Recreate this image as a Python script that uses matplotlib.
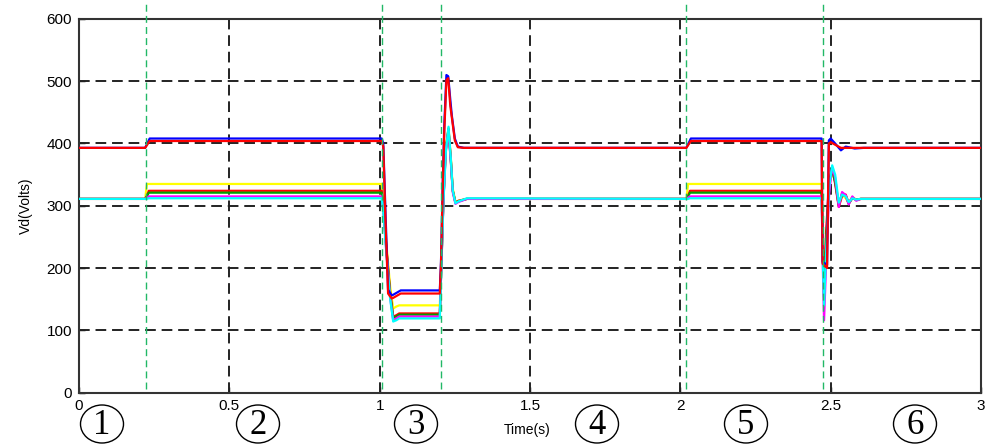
import matplotlib
matplotlib.use("Agg")
import matplotlib.pyplot as plt
from matplotlib.patches import Ellipse

# DC-link voltage, upper group (two converters)
t_up = [0, 0.22, 0.235, 1.007, 1.012, 1.02, 1.028, 1.04, 1.045, 1.07,
        1.200, 1.204, 1.21, 1.215, 1.222, 1.228, 1.235, 1.24, 1.25, 1.26,
        1.28, 2.02, 2.035, 2.470, 2.473, 2.488, 2.494, 2.50, 2.515, 2.534,
        2.55, 2.58, 2.61, 3.0]
vd_blue_up = [393, 393, 408, 408, 400, 280, 165, 156, 157, 164,
              164, 210, 340, 430, 510, 508, 470, 445, 408, 395,
              393, 393, 408, 408, 210, 205, 405, 408, 400, 389,
              395, 392, 393, 393]
vd_red_up = [393, 393, 404, 404, 395, 266, 159, 151, 152, 159,
             159, 207, 336, 420, 502, 505, 460, 442, 405, 394,
             393, 393, 404, 404, 207, 200, 400, 402, 398, 393,
             393, 393, 393, 393]

# lower group
t_lo = [0, 0.22, 0.226, 0.232, 1.007, 1.013, 1.022, 1.035, 1.045, 1.055,
        1.065, 1.200, 1.205, 1.212, 1.22, 1.229, 1.237, 1.243, 1.252, 1.262,
        1.29, 2.02, 2.026, 2.032, 2.470, 2.474, 2.478, 2.485, 2.495, 2.505,
        2.515, 2.527, 2.538, 2.55, 2.56, 2.572, 2.585, 2.6, 2.63, 3.0]
vd_yellow = [311, 311, 335, 335, 335, 300, 240, 170, 135, 138,
             140, 140, 205, 312, 395, 425, 375, 328, 306, 308,
             311, 311, 335, 335, 335, 240, 159, 230, 330, 355,
             340, 300, 318, 312, 305, 314, 310, 311, 311, 311]
vd_red_lo = [311, 311, 316, 324, 324, 295, 235, 160, 122, 124,
             127, 127, 203, 310, 392, 424, 372, 325, 305, 308,
             311, 311, 316, 324, 324, 230, 185, 260, 340, 360,
             335, 298, 316, 318, 304, 313, 309, 311, 311, 311]
vd_green = [311, 311, 315, 321, 321, 292, 232, 158, 120, 122,
            125, 125, 202, 309, 390, 422, 370, 324, 305, 307,
            311, 311, 315, 321, 321, 220, 153, 240, 335, 358,
            338, 300, 320, 316, 303, 312, 310, 311, 311, 311]
vd_magenta = [311, 311, 313, 315, 315, 288, 228, 152, 116, 119,
              122, 122, 200, 306, 388, 420, 368, 322, 303, 306,
              311, 311, 313, 315, 315, 200, 116, 210, 320, 362,
              345, 298, 322, 317, 302, 315, 308, 311, 311, 311]
vd_cyan = [311, 311, 311, 312, 312, 285, 225, 150, 114, 116,
           119, 119, 198, 305, 386, 427, 373, 325, 304, 307,
           312, 311, 311, 312, 312, 210, 140, 225, 330, 365,
           350, 305, 318, 315, 306, 312, 310, 311, 311, 311]

# switching instants and stage labels
events = [0.223, 1.009, 1.205, 2.02, 2.474]
stage_labels = ["1", "2", "3", "4", "5", "6"]
stage_x_px = [102, 258, 416, 597, 746, 915]

x_ticks = [0, 0.5, 1, 1.5, 2, 2.5, 3]
x_tick_labels = ["0", "0.5", "1", "1.5", "2", "2.5", "3"]
y_ticks = [0, 100, 200, 300, 400, 500, 600]

W, H = 995, 446
fig = plt.figure(figsize=(W / 100, H / 100), dpi=100)
ax = fig.add_axes([79 / W, 1 - 392.5 / H, (981 - 79) / W, (392.5 - 19) / H])

lw = 1.6
for v, c in [(vd_yellow, "#ffff00"), (vd_red_lo, "#ff0000"), (vd_green, "#00a000"),
             (vd_magenta, "#ff00ff"), (vd_cyan, "#00ffff")]:
    ax.plot(t_lo, v, color=c, lw=lw, zorder=3)
ax.plot(t_up, vd_blue_up, color="#0000ff", lw=lw, zorder=4)
ax.plot(t_up, vd_red_up, color="#ff0000", lw=lw, zorder=4)

# black dashed grid
for t in x_ticks[1:-1]:
    ax.plot([t, t], [0, 600], color="#222222", lw=1.4, ls=(0, (5.5, 3)), zorder=2)
for y in y_ticks[1:-1]:
    ax.plot([0, 3], [y, y], color="#222222", lw=1.4, ls=(0, (5.5, 3)), zorder=2)

# green event markers, running slightly above the frame
ax.vlines(events, 6, 626, colors="#22b866", lw=1.0, linestyles=(0, (5, 3)),
          clip_on=False, zorder=5)

ax.set_xlim(0, 3)
ax.set_ylim(0, 600)
ax.set_xticks(x_ticks)
ax.set_xticklabels(x_tick_labels)
ax.set_yticks(y_ticks)
ax.tick_params(direction="in", length=4, width=1, labelsize=11, pad=5)
for lab in ax.get_xticklabels() + ax.get_yticklabels():
    lab.set_family("Liberation Sans")
for s in ax.spines.values():
    s.set_linewidth(1.5)
    s.set_color("#333333")

ax.set_ylabel("Vd(Volts)", fontsize=10, family="Liberation Sans", labelpad=10)
fig.text(527 / W, 1 - 430 / H, "Time(s)", fontsize=10, family="Liberation Sans",
         ha="center", va="center")

# circled stage numbers
for lab, xp in zip(stage_labels, stage_x_px):
    fig.add_artist(Ellipse((xp / W, 1 - 424 / H), 43 / W, 38 / H,
                           transform=fig.transFigure, fill=False, lw=1.0, color="black"))
    fig.text(xp / W, 1 - 425 / H, lab, fontsize=25, family="Liberation Serif",
             ha="center", va="center")

fig.savefig("out.png", dpi=100)
